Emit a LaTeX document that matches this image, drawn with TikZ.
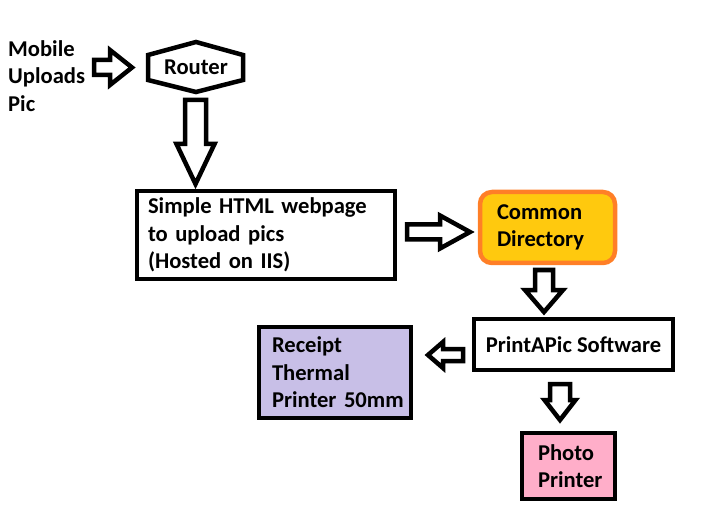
\documentclass[tikz,border=0pt]{standalone}
\usepackage{fontspec}
\setmainfont{Carlito}
\usetikzlibrary{calc}
\definecolor{gold}{HTML}{FFC90E}
\definecolor{paintorange}{HTML}{FF7F27}
\definecolor{lavender}{HTML}{C8BFE7}
\definecolor{rose}{HTML}{FFAEC9}
\tikzset{
  txt/.style={font=\fontsize{22.6}{27.5}\selectfont\bfseries},
  box/.style={draw, rectangle, line width=4.5pt, inner ysep=0pt, align=left, txt},
  barrow/.style={draw, fill=white, line width=4.5pt, line join=miter},
  pics/blockarrow/.style n args={4}{code={
    \draw[barrow] (0,-#2) -- ({#1-#4},-#2) -- ({#1-#4},-#3) -- (#1,0)
      -- ({#1-#4},#3) -- ({#1-#4},#2) -- (0,#2) -- cycle;
  }}
}
\begin{document}
\begin{tikzpicture}[x=1pt,y=-1pt]
\useasboundingbox (0,0) rectangle (705,532);
% texts and boxes
\node[txt, align=left, anchor=west, inner sep=0pt] (mobile) at (8,76) {Mobile\\Uploads\\Pic};
\node[txt, inner sep=0pt] (router) at (196,67) {Router};
\draw[line width=4.5pt, line join=miter, shift={(router.center)}]
  (-48,-12) -- (0,-25) -- (47,-12) -- (47,13) -- (0,25) -- (-48,13) -- cycle;
\node[box, minimum width=258pt, minimum height=88pt, text width=236pt, inner xsep=11pt]
  (html) at (266,235) {Simple HTML webpage\\to upload pics\\(Hosted on IIS)};
\node[box, draw=paintorange, fill=gold, rounded corners=12pt, minimum width=135pt,
  minimum height=71pt, text width=101pt, inner xsep=17pt]
  (common) at (547.5,227.5) {Common\\Directory};
\node[box, align=center, minimum width=199pt, minimum height=51pt, inner xsep=5pt]
  (printapic) at (573.5,344.5) {PrintAPic Software};
\node[box, fill=lavender, minimum width=152pt, minimum height=91pt, text width=126pt, inner xsep=13pt]
  (receipt) at (335,372.5) {Receipt\\Thermal\\Printer~50mm};
\node[box, fill=rose, minimum width=93pt, minimum height=66pt, text width=61pt, inner xsep=16pt]
  (photo) at (568.5,466) {Photo\\Printer};
% block arrows (start points between the named nodes)
\coordinate (a1) at (94,67.5);
\coordinate (a2) at (195.5,100);
\coordinate (a3) at (407,232);
\coordinate (a4) at (544,270);
\coordinate (a5) at (463,355);
\coordinate (a6) at (560,384);
\pic at (a1) {blockarrow={38}{7.5}{17.5}{22}};
\pic[rotate=-90] at (a2) {blockarrow={84}{10.5}{19}{40}};
\pic at (a3) {blockarrow={63}{7.5}{16.5}{30}};
\pic[rotate=-90] at (a4) {blockarrow={42}{9}{19}{22}};
\pic[rotate=180] at (a5) {blockarrow={35}{6}{13}{15}};
\pic[rotate=-90] at (a6) {blockarrow={36}{10}{15.5}{20}};
\end{tikzpicture}
\end{document}
